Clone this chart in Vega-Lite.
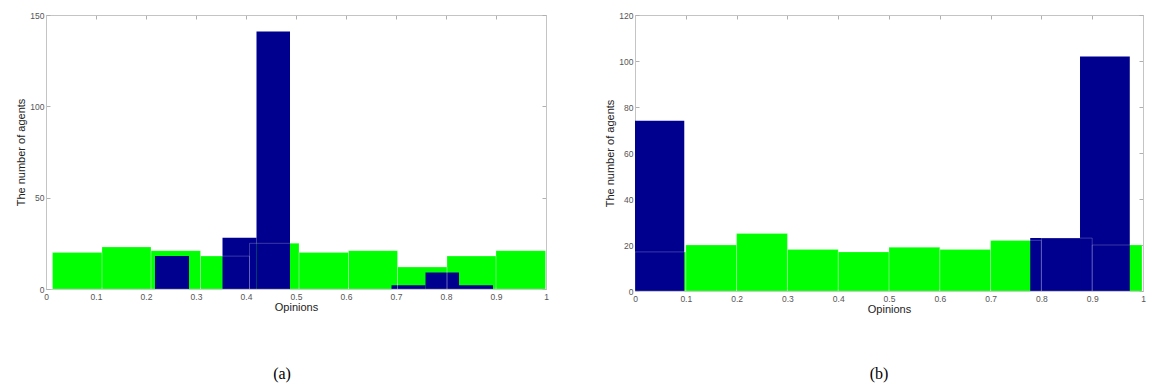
{
  "$schema": "https://vega.github.io/schema/vega-lite/v6.json",
  "background": "white",
  "padding": {"left": 15, "top": 10, "right": 2, "bottom": 2},
  "spacing": 55,
  "config": {
    "view": {"stroke": "#c4c4c4", "strokeWidth": 1},
    "axis": {
      "domainColor": "#c4c4c4",
      "tickColor": "#b0b0b0",
      "tickSize": -4,
      "grid": false,
      "labelFont": "Liberation Sans",
      "labelFontSize": 8.5,
      "labelColor": "#555555",
      "titleFont": "Liberation Sans",
      "titleFontSize": 11,
      "titleFontWeight": "normal",
      "titleColor": "#222222"
    },
    "title": {"font": "Liberation Serif", "fontSize": 16, "fontWeight": "normal", "color": "#000000"}
  },
  "datasets": {
    "a_initial": [
      {"lo": 0.013, "hi": 0.112, "count": 20},
      {"lo": 0.112, "hi": 0.210, "count": 23},
      {"lo": 0.210, "hi": 0.309, "count": 21},
      {"lo": 0.309, "hi": 0.407, "count": 18},
      {"lo": 0.407, "hi": 0.506, "count": 25},
      {"lo": 0.506, "hi": 0.605, "count": 20},
      {"lo": 0.605, "hi": 0.703, "count": 21},
      {"lo": 0.703, "hi": 0.802, "count": 12},
      {"lo": 0.802, "hi": 0.900, "count": 18},
      {"lo": 0.900, "hi": 0.999, "count": 21}
    ],
    "a_final": [
      {"lo": 0.218, "hi": 0.286, "count": 18},
      {"lo": 0.353, "hi": 0.421, "count": 28},
      {"lo": 0.421, "hi": 0.488, "count": 141},
      {"lo": 0.691, "hi": 0.759, "count": 2},
      {"lo": 0.759, "hi": 0.826, "count": 9},
      {"lo": 0.826, "hi": 0.894, "count": 2}
    ],
    "b_initial": [
      {"lo": 0.0, "hi": 0.1, "count": 17},
      {"lo": 0.1, "hi": 0.2, "count": 20},
      {"lo": 0.2, "hi": 0.3, "count": 25},
      {"lo": 0.3, "hi": 0.4, "count": 18},
      {"lo": 0.4, "hi": 0.5, "count": 17},
      {"lo": 0.5, "hi": 0.6, "count": 19},
      {"lo": 0.6, "hi": 0.7, "count": 18},
      {"lo": 0.7, "hi": 0.8, "count": 22},
      {"lo": 0.8, "hi": 0.9, "count": 23},
      {"lo": 0.9, "hi": 0.998, "count": 20}
    ],
    "b_final": [
      {"lo": 0.0, "hi": 0.097, "count": 74},
      {"lo": 0.778, "hi": 0.876, "count": 23},
      {"lo": 0.876, "hi": 0.974, "count": 102}
    ]
  },
  "hconcat": [
    {
      "width": 500,
      "height": 274,
      "title": {"text": "(a)", "orient": "bottom", "offset": 53, "dx": -14},
      "resolve": {"axis": {"x": "independent", "y": "independent"}},
      "layer": [
        {
          "data": {"name": "a_initial"},
          "mark": {"type": "bar", "color": "#00FF00", "strokeWidth": 0},
          "encoding": {
            "x": {"field": "lo", "type": "quantitative", "scale": {"domain": [0, 1], "nice": false},
                  "axis": {"values": [0, 0.1, 0.2, 0.3, 0.4, 0.5, 0.6, 0.7, 0.8, 0.9, 1], "format": ".1~f", "title": "Opinions", "labelPadding": 7, "titlePadding": 1, "labelFlush": false}},
            "x2": {"field": "hi"},
            "y": {"field": "count", "type": "quantitative", "scale": {"domain": [0, 150], "nice": false},
                  "axis": {"values": [0, 50, 100, 150], "title": "The number of agents", "labelPadding": 6, "titlePadding": 3}},
            "y2": {"datum": 0}
          }
        },
        {
          "data": {"name": "a_final"},
          "mark": {"type": "bar", "color": "#00008F", "strokeWidth": 0},
          "encoding": {
            "x": {"field": "lo", "type": "quantitative", "axis": null},
            "x2": {"field": "hi"},
            "y": {"field": "count", "type": "quantitative", "axis": null},
            "y2": {"datum": 0}
          }
        },
        {
          "data": {"name": "a_initial"},
          "mark": {"type": "bar", "fill": null, "fillOpacity": 0, "stroke": "#ffffff", "strokeOpacity": 0.22, "strokeWidth": 1},
          "encoding": {
            "x": {"field": "lo", "type": "quantitative", "axis": {"orient": "top", "labels": false, "title": null, "values": [0, 0.1, 0.2, 0.3, 0.4, 0.5, 0.6, 0.7, 0.8, 0.9, 1]}},
            "x2": {"field": "hi"},
            "y": {"field": "count", "type": "quantitative", "axis": {"orient": "right", "labels": false, "title": null, "values": [0, 50, 100, 150]}},
            "y2": {"datum": 0}
          }
        }
      ]
    },
    {
      "width": 508,
      "height": 276,
      "title": {"text": "(b)", "orient": "bottom", "offset": 51, "dx": -10},
      "resolve": {"axis": {"x": "independent", "y": "independent"}},
      "layer": [
        {
          "data": {"name": "b_initial"},
          "mark": {"type": "bar", "color": "#00FF00", "strokeWidth": 0},
          "encoding": {
            "x": {"field": "lo", "type": "quantitative", "scale": {"domain": [0, 1], "nice": false},
                  "axis": {"values": [0, 0.1, 0.2, 0.3, 0.4, 0.5, 0.6, 0.7, 0.8, 0.9, 1], "format": ".1~f", "title": "Opinions", "labelPadding": 7, "titlePadding": 1, "labelFlush": false}},
            "x2": {"field": "hi"},
            "y": {"field": "count", "type": "quantitative", "scale": {"domain": [0, 120], "nice": false},
                  "axis": {"values": [0, 20, 40, 60, 80, 100, 120], "title": "The number of agents", "labelPadding": 6, "titlePadding": 3}},
            "y2": {"datum": 0}
          }
        },
        {
          "data": {"name": "b_final"},
          "mark": {"type": "bar", "color": "#00008F", "strokeWidth": 0},
          "encoding": {
            "x": {"field": "lo", "type": "quantitative", "axis": null},
            "x2": {"field": "hi"},
            "y": {"field": "count", "type": "quantitative", "axis": null},
            "y2": {"datum": 0}
          }
        },
        {
          "data": {"name": "b_initial"},
          "mark": {"type": "bar", "fill": null, "fillOpacity": 0, "stroke": "#ffffff", "strokeOpacity": 0.22, "strokeWidth": 1},
          "encoding": {
            "x": {"field": "lo", "type": "quantitative", "axis": {"orient": "top", "labels": false, "title": null, "values": [0, 0.1, 0.2, 0.3, 0.4, 0.5, 0.6, 0.7, 0.8, 0.9, 1]}},
            "x2": {"field": "hi"},
            "y": {"field": "count", "type": "quantitative", "axis": {"orient": "right", "labels": false, "title": null, "values": [0, 20, 40, 60, 80, 100, 120]}},
            "y2": {"datum": 0}
          }
        }
      ]
    }
  ]
}
